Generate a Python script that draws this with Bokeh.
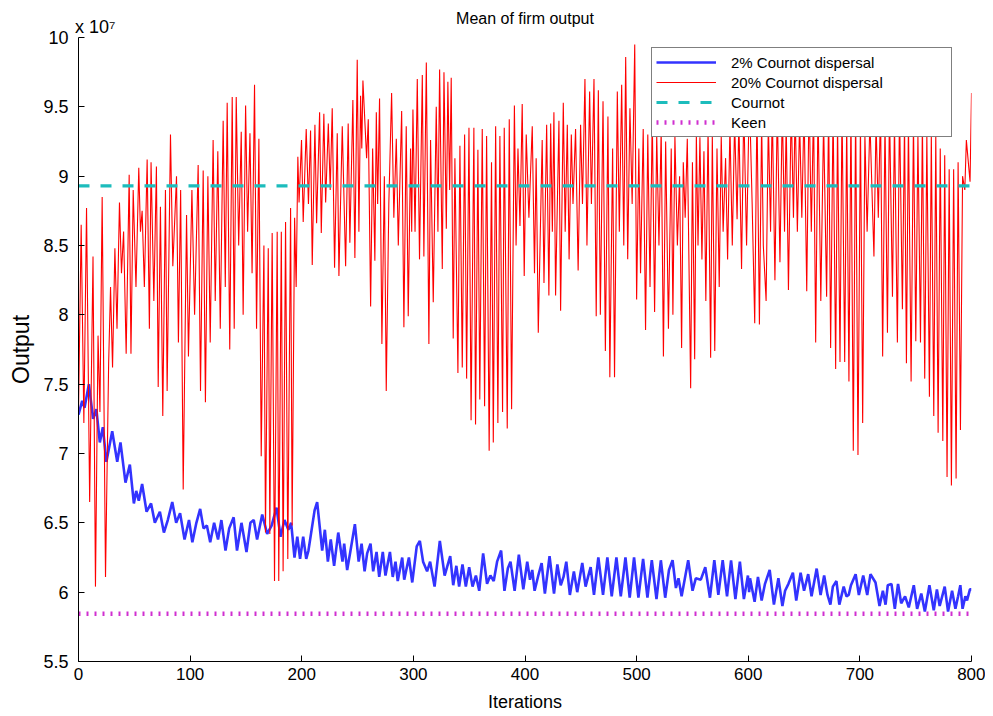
from bokeh.plotting import figure
from bokeh.models import (Range1d, FixedTicker, CustomJSTickFormatter, Legend, LegendItem, LinearAxis)
from bokeh.embed import file_html
from bokeh.resources import INLINE

# ---- data (output in units of 1e7) ----
blue_x = [0, 3.3, 5.4, 9.3, 13.1, 16, 19.1, 21.8, 25, 30.2, 34.7, 37.6, 42.1, 46, 49.6, 51.7, 54, 57, 61, 65,
          68.4, 72.9, 76.5, 80, 84, 87.5, 91, 95, 99, 102, 105.6, 109, 112, 115, 118, 121.5, 125, 128, 131.7, 135,
          139, 142, 146, 150.5, 154, 157, 160, 164.6, 169, 173, 177.4, 181, 184.5, 188, 190.5, 193.5, 196, 198.5,
          201.3, 204, 206, 211.5, 213.8, 218.3, 220.7, 223.4, 226, 229, 232.7, 236.5, 238, 240.7, 243.7, 247.6,
          251, 253.6, 256.3, 258.6, 261.6, 264, 267, 269.4, 272.6, 275, 279, 281.5, 284, 286, 290, 291.8, 296,
          299, 303, 305.8, 308.7, 312.3, 315, 319, 323.7, 328, 330.5, 333, 335.7, 338.5, 341, 344, 347, 350, 353,
          356, 359, 362.5, 366, 369, 372, 375, 378.6, 381.6, 384.6, 387, 390.7, 394.5, 398.5, 402, 404.5, 406.5,
          408.6, 411.9, 414.9, 417.8, 422, 426, 429, 432, 434.5, 437, 440.2, 443.8, 446.8, 451.3, 454.3, 456.5,
          458.8, 461.8, 465.7, 469.9, 473.8, 477.7, 481.9, 485.8, 490, 493.8, 497.7, 501.6, 505.8, 509.7, 513.6,
          517.8, 521.7, 525.6, 529, 532.2, 535.2, 537.5, 540.3, 546.2, 550.1, 553, 557.5, 561.5, 565.7, 569.6,
          573.2, 577.1, 581, 584.6, 588.5, 592.5, 596.1, 599.7, 600.8, 601.6, 605.7, 608.7, 612, 615, 619.2, 623,
          627, 630.6, 633, 636, 640, 643, 646.9, 650, 653.7, 656.7, 661.3, 664.8, 668, 671, 673.6, 675.8, 679,
          681.6, 685.5, 688, 690, 692, 696.2, 699.1, 703, 706.6, 709.5, 714, 717.6, 720.6, 723, 725, 728.3, 731.3,
          734.2, 737, 740.5, 743.8, 748.3, 751.3, 755, 758.2, 762.3, 766.2, 769, 771.5, 776, 779, 782.6, 785.6,
          788, 790, 792, 794.5, 796, 798.6, 800]
blue_y = [7.28, 7.38, 7.33, 7.50, 7.25, 7.32, 7.08, 7.19, 6.94, 7.16, 6.94, 7.08, 6.79, 6.92, 6.64, 6.73, 6.66,
          6.78, 6.58, 6.64, 6.50, 6.58, 6.43, 6.52, 6.65, 6.50, 6.57, 6.38, 6.52, 6.36, 6.50, 6.60, 6.46, 6.48,
          6.36, 6.50, 6.38, 6.52, 6.30, 6.46, 6.54, 6.30, 6.50, 6.29, 6.50, 6.52, 6.38, 6.56, 6.42, 6.48, 6.61,
          6.40, 6.52, 6.45, 6.50, 6.25, 6.40, 6.24, 6.40, 6.24, 6.30, 6.59, 6.65, 6.30, 6.45, 6.22, 6.38, 6.19,
          6.43, 6.22, 6.35, 6.16, 6.30, 6.49, 6.22, 6.35, 6.15, 6.28, 6.35, 6.15, 6.29, 6.11, 6.29, 6.12, 6.29,
          6.11, 6.22, 6.08, 6.25, 6.09, 6.25, 6.07, 6.33, 6.37, 6.22, 6.15, 6.22, 6.04, 6.37, 6.12, 6.19, 6.26,
          6.05, 6.19, 6.04, 6.20, 6.04, 6.18, 6.04, 6.12, 6.01, 6.28, 6.06, 6.12, 6.08, 6.22, 6.30, 6.01, 6.17,
          6.22, 6.01, 6.27, 6.02, 6.22, 6.09, 6.16, 6.01, 6.12, 6.21, 5.99, 6.26, 5.99, 6.20, 6.05, 6.11, 6.22,
          5.98, 6.15, 6.00, 6.21, 6.04, 6.11, 6.18, 5.98, 6.25, 5.98, 6.25, 5.97, 6.25, 5.97, 6.25, 5.96, 6.25,
          5.96, 6.24, 5.96, 6.23, 5.95, 6.23, 5.96, 6.16, 6.23, 6.03, 6.10, 5.97, 6.23, 6.01, 6.10, 6.09, 6.18,
          5.96, 6.23, 5.98, 6.23, 5.97, 6.23, 5.95, 6.22, 5.95, 6.12, 6.00, 6.10, 5.93, 6.11, 5.94, 6.06, 6.16,
          5.91, 6.10, 5.90, 6.01, 6.06, 6.14, 5.94, 6.14, 6.01, 6.13, 5.97, 6.17, 5.98, 6.12, 5.98, 5.91, 6.04,
          6.08, 5.91, 6.04, 5.97, 5.98, 6.05, 6.13, 5.98, 6.12, 5.98, 6.13, 6.07, 5.90, 6.01, 5.91, 6.05, 6.06,
          5.88, 6.06, 5.92, 5.97, 5.89, 6.05, 5.88, 5.99, 5.86, 6.05, 5.87, 6.02, 5.90, 6.04, 5.86, 6.01, 5.88,
          5.97, 6.05, 5.88, 5.97, 5.94, 6.02, 6.02]

red_x = [0, 2.4, 4.8, 7.2, 10, 13, 15.2, 17.5, 19.2, 21.2, 24.2, 27, 28.7, 30.5, 32.6, 34.5, 36.7, 38.5, 40.4,
         42.7, 45.4, 47, 49, 51.5, 54, 55.5, 57, 59, 61.5, 63.5, 65, 67.5, 69.8, 71.4, 73.4, 75.5, 77.9, 79.4,
         82.4, 84.5, 87.8, 89.5, 91.5, 93.8, 96.8, 98.5, 101.6, 104, 107.2, 109.3, 111.7, 113.7, 115.9, 118,
         120.6, 122.5, 124.8, 127, 129.6, 131.5, 133.2, 135.5, 137.7, 139.5, 141.3, 143.5, 145.8, 147.5, 149.7,
         151.5, 153.6, 155.5, 157.7, 159.5, 161.6, 163.7, 166.1, 167.5, 170, 171.4, 173.5, 175.6, 178, 179.4,
         181.7, 183.3, 185.5, 187.5, 190, 191.4, 193.6, 195, 196.5, 197.6, 199.8, 201.3, 204, 206, 207.9, 209.4,
         211.8, 213.3, 216, 217.5, 219.8, 221.4, 223.8, 225.5, 227.3, 229.4, 231.8, 233.3, 236.3, 239.3, 241.6,
         243.1, 245.8, 247.6, 249.7, 251.2, 252.7, 253.8, 254.8, 258.1, 259.6, 261.7, 263.5, 265.5, 266.8, 268,
         269.7, 271.8, 274, 275.7, 278, 280.5, 282.5, 284.7, 286.5, 289.5, 291.5, 293.6, 295.4, 297.5, 298.5,
         299.6, 301.5, 303.5, 305.5, 308, 309.4, 311.6, 313.9, 315.4, 317.8, 320.5, 322, 323.5, 325.9, 327.4,
         329.5, 330.9, 332.5, 333.9, 335.7, 337.2, 339.9, 341.7, 343.8, 345.9, 347.7, 349.8, 351.7, 354.2, 355.7,
         357.8, 359.5, 361.7, 363.8, 365.6, 367.9, 370, 371.6, 373.7, 375.7, 377.5, 379.9, 381.4, 384.1, 385.9,
         388, 390.5, 392, 393.7, 395.5, 397.5, 399.3, 401.1, 403.5, 406.5, 408.5, 410, 411.9, 415.4, 417, 419.4,
         421.4, 423, 424.5, 425.9, 427.4, 430.4, 431.9, 434.3, 436, 437.9, 439.5, 441.5, 443, 445.3, 447.6,
         449.8, 451.5, 453.7, 455.5, 457.9, 459.5, 461.8, 463.8, 465.7, 467.5, 469.9, 472, 474.3, 476, 478.5,
         480.2, 482.7, 484.5, 486.6, 488.5, 490.2, 492, 494, 496, 498.3, 500, 502, 503.5, 505.9, 508, 510, 512,
         514, 516.1, 518, 520, 522, 524, 526, 528.5, 531, 532.5, 534.3, 536.5, 538.5, 540.3, 541.8, 543.5, 545.4,
         548.4, 550, 552, 553.5, 555, 556.7, 558.5, 560.3, 562, 564, 566.3, 567.8, 570, 572, 574, 575.8, 577.5,
         579.7, 581.5, 583.6, 585.7, 587.8, 590, 591.6, 594, 596, 598.5, 601, 603.5, 605.8, 607.8, 610, 612,
         613.5, 616, 618, 620, 621.5, 623.9, 626, 628.4, 630.5, 632.5, 634, 636, 638.5, 640.5, 642, 644, 646, 648,
         650, 652.4, 654.5, 656.5, 658.5, 660.4, 662.5, 665, 667.5, 670.2, 672, 673.8, 676, 678.3, 680, 682.2,
         684, 686.4, 688.2, 690.2, 692, 694.1, 696.2, 698.3, 700.5, 702.5, 704.5, 706.5, 709, 712.6, 714.5,
         716.5, 718.5, 720.4, 722.5, 724.7, 726.5, 729.2, 731, 733.6, 735.5, 738.1, 740, 741.7, 743.5, 745.9,
         748, 750.1, 752, 754.3, 756, 758.1, 760, 762.3, 764, 766.2, 768, 770.1, 772, 774.3, 776, 778.1, 780,
         782, 784, 786.2, 788, 790.1, 792, 794, 795.4, 798.7, 800]
red_y = [7.30, 8.65, 7.22, 8.77, 6.65, 8.42, 6.04, 7.85, 7.30, 8.85, 6.11, 7.65, 8.20, 7.62, 8.48, 7.90, 8.81,
         8.30, 8.60, 7.72, 9.01, 7.72, 8.90, 8.20, 9.06, 8.60, 8.75, 8.20, 9.12, 7.90, 9.10, 8.10, 9.07, 7.48,
         8.78, 7.27, 8.90, 7.45, 9.30, 8.35, 9.00, 7.80, 8.90, 6.74, 8.72, 7.70, 8.90, 8.00, 9.08, 7.45, 9.04,
         7.37, 9.00, 7.80, 9.26, 8.10, 9.18, 7.90, 9.40, 8.20, 9.53, 7.75, 9.57, 7.90, 9.57, 8.50, 9.32, 8.00,
         9.51, 8.60, 9.31, 8.30, 9.66, 7.90, 9.27, 6.98, 8.50, 6.43, 8.48, 6.42, 8.59, 6.08, 8.60, 6.08, 8.60,
         6.15, 8.67, 6.24, 8.77, 6.48, 8.70, 8.20, 9.14, 8.81, 9.26, 8.67, 9.34, 8.80, 9.33, 8.36, 9.37, 8.66,
         9.46, 8.59, 9.45, 8.81, 9.38, 8.90, 9.49, 8.34, 9.31, 8.28, 9.36, 8.35, 9.38, 8.52, 9.55, 8.41, 9.84,
         8.60, 9.58, 9.20, 9.69, 9.13, 9.41, 8.06, 9.20, 8.39, 9.46, 8.80, 9.56, 7.79, 9.00, 7.45, 8.80, 9.60,
         8.70, 9.27, 8.50, 9.47, 7.91, 9.36, 7.99, 9.20, 8.60, 9.48, 8.60, 9.70, 8.40, 9.73, 8.42, 9.82, 7.79,
         9.26, 8.09, 9.50, 8.60, 9.77, 8.33, 9.75, 8.62, 9.68, 8.90, 9.71, 7.83, 9.13, 7.58, 9.22, 7.62, 9.30,
         7.54, 9.35, 7.24, 9.35, 7.21, 9.19, 7.39, 9.34, 7.34, 9.29, 7.02, 9.10, 7.08, 9.36, 7.22, 9.29, 7.30,
         9.35, 7.18, 9.41, 7.32, 9.51, 8.50, 9.20, 8.64, 9.52, 8.28, 9.30, 8.70, 9.36, 8.30, 9.13, 7.87, 9.26,
         8.23, 9.37, 8.14, 9.38, 8.60, 9.46, 8.14, 9.40, 8.03, 9.53, 8.60, 9.37, 8.40, 9.30, 8.80, 9.34, 8.32,
         9.37, 8.80, 9.70, 8.50, 9.61, 8.80, 9.70, 7.99, 9.62, 8.00, 9.54, 7.74, 9.43, 7.55, 9.20, 7.55, 9.61,
         8.60, 9.66, 8.50, 9.86, 8.40, 9.49, 8.80, 9.95, 8.11, 9.20, 8.30, 9.34, 7.89, 9.30, 8.20, 9.43, 8.02,
         9.30, 8.50, 9.34, 7.70, 9.25, 7.90, 9.20, 8.00, 9.29, 8.50, 9.00, 7.76, 9.10, 8.70, 9.27, 7.47, 9.10,
         7.68, 9.30, 8.50, 9.28, 8.40, 9.18, 8.10, 9.35, 7.69, 9.30, 7.74, 9.20, 8.20, 9.29, 8.60, 9.13, 8.40,
         9.36, 8.50, 9.40, 8.69, 9.41, 8.33, 9.50, 8.50, 9.60, 8.80, 7.94, 9.50, 7.93, 9.40, 8.50, 8.10, 9.40,
         8.60, 9.50, 8.25, 9.50, 8.38, 9.50, 8.60, 9.40, 8.18, 9.50, 8.70, 9.50, 8.60, 9.40, 8.70, 9.50, 8.17,
         9.60, 8.60, 9.50, 7.80, 9.50, 8.10, 9.40, 8.13, 9.50, 7.76, 9.50, 7.61, 9.40, 7.66, 9.50, 7.66, 9.40,
         7.52, 9.50, 7.02, 9.50, 6.99, 9.40, 7.22, 9.30, 8.60, 9.40, 8.42, 9.40, 8.70, 9.50, 7.70, 9.40, 7.87,
         9.50, 8.13, 9.40, 7.80, 9.50, 8.04, 9.40, 7.65, 9.40, 7.52, 9.40, 7.81, 9.30, 7.80, 9.40, 7.54, 9.30,
         7.41, 9.30, 7.27, 9.30, 7.15, 9.20, 7.09, 9.15, 6.83, 9.05, 6.77, 9.05, 6.82, 9.10, 7.17, 9.00, 8.90,
         9.26, 8.96, 9.60]

cournot_level = 8.93
keen_level = 5.845
x_span = [0, 800]

y_ticks = [5.5, 6, 6.5, 7, 7.5, 8, 8.5, 9, 9.5, 10]
x_ticks = [0, 100, 200, 300, 400, 500, 600, 700, 800]
title_text = "Mean of firm output"
exponent_text = "x 10\u2077"

FONT = "Liberation Sans"

p = figure(width=985, height=714, output_backend="svg", toolbar_location=None, title=None,
           x_range=Range1d(0, 800), y_range=Range1d(5.5, 10),
           min_border_left=78, min_border_right=14, min_border_top=37, min_border_bottom=51)
p.outline_line_color = None
p.xgrid.visible = False
p.ygrid.visible = False

blue = p.line(blue_x, blue_y, line_color="#3333ff", line_width=2.6)
red = p.line(red_x, red_y, line_color="#ff0000", line_width=1.1)
cour = p.line(x_span, [cournot_level, cournot_level], line_color="#1cbcbc", line_width=3.2,
              line_dash="11 11")
keen = p.line(x_span, [keen_level, keen_level], line_color="#d030d0", line_width=4.5,
              line_dash="2 6")

for ax in (p.xaxis[0], p.yaxis[0]):
    ax.major_tick_in = 6
    ax.major_tick_out = 0
    ax.minor_tick_line_color = None
    ax.axis_line_color = "black"
    ax.major_tick_line_color = "black"
    ax.major_label_text_font = FONT
    ax.major_label_text_color = "black"
    ax.axis_label_text_font = FONT
    ax.axis_label_text_font_style = "normal"
    ax.axis_label_text_color = "black"

p.xaxis.ticker = FixedTicker(ticks=x_ticks)
p.yaxis.ticker = FixedTicker(ticks=y_ticks)
p.yaxis.formatter = CustomJSTickFormatter(code="return String(tick);")
p.xaxis.major_label_text_font_size = "17px"
p.yaxis.major_label_text_font_size = "18px"
p.xaxis.major_label_standoff = 6
p.yaxis.major_label_standoff = 10
p.xaxis.axis_label = "Iterations"
p.yaxis.axis_label = "Output"
p.xaxis.axis_label_text_font_size = "18px"
p.yaxis.axis_label_text_font_size = "23px"
p.xaxis.axis_label_standoff = 9
p.yaxis.axis_label_standoff = 6

# top axis carries the exponent note and the title text
exp_tick = 15
top = LinearAxis(ticker=FixedTicker(ticks=[exp_tick]),
                 major_label_overrides={exp_tick: exponent_text},
                 axis_line_color=None, major_tick_line_color=None, minor_tick_line_color=None,
                 major_tick_in=0, major_tick_out=0, major_label_standoff=1,
                 major_label_text_font=FONT, major_label_text_font_size="18px",
                 major_label_text_color="black",
                 axis_label=title_text, axis_label_standoff=-13,
                 axis_label_text_font=FONT, axis_label_text_font_size="16px",
                 axis_label_text_font_style="normal", axis_label_text_color="black")
p.add_layout(top, "above")

legend = Legend(items=[LegendItem(label="2% Cournot dispersal", renderers=[blue]),
                       LegendItem(label="20% Cournot dispersal", renderers=[red]),
                       LegendItem(label="Cournot", renderers=[cour]),
                       LegendItem(label="Keen", renderers=[keen])],
                location=(573, 524))
legend.label_text_font = FONT
legend.label_text_font_size = "15px"
legend.label_text_color = "black"
legend.glyph_width = 60
legend.glyph_height = 20
legend.label_height = 20
legend.label_standoff = 15
legend.label_width = 216
legend.spacing = 0
legend.padding = 4
legend.margin = 0
legend.border_line_color = "black"
legend.border_line_width = 1
legend.background_fill_color = "white"
legend.background_fill_alpha = 1
p.add_layout(legend)

open("out.html", "w").write(file_html(p, INLINE))
